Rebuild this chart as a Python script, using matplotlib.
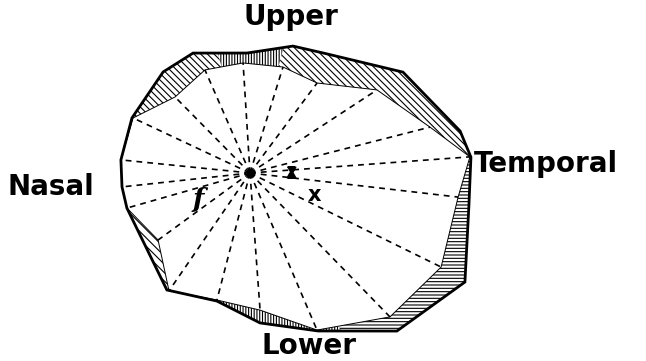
import numpy as np
import matplotlib
matplotlib.use("Agg")
import matplotlib.pyplot as plt
from matplotlib.patches import Polygon

# field of vision, right eye: meridian angle (deg, 0 = temporal) and extent (deg)
outer_angle = [4.1, 11.3, 33.4, 58.7, 71.3, 91.4, 115.4, 130.7, 155.0, 174.2,
               186.2, 195.9, 234.6, 255.5, 273.8, 293.3, 312.9, 333.1, 351.7]
outer_r = [88.6, 85.7, 73.3, 56.2, 53.6, 48.0, 53.1, 53.3, 52.1, 51.9,
           51.5, 51.2, 57.4, 52.9, 60.1, 68.8, 86.3, 96.4, 88.5]

# contracted field, measured along each meridian
inner_angle = [4.2, 14.3, 33.2, 53.3, 72.7, 93.6, 113.6, 134.6, 154.8, 174.2,
               186.2, 195.9, 216.1, 235.5, 255.4, 274.2, 293.1, 314.2, 333.8, 353.4]
inner_r = [88.2, 74.3, 60.7, 44.9, 44.4, 44.1, 45.0, 42.7, 51.7, 51.9,
           51.5, 51.2, 45.5, 57.2, 52.5, 55.0, 68.3, 80.3, 85.2, 83.8]

blind_spot = (1.4, 16.4)

# hatch direction per sector of the lost band
sectors = [(300, 364, "-----"), (4, 75, "\\\\\\\\\\"), (75, 105, "||||||"),
           (105, 200, "\\\\\\\\\\"), (195, 240, "\\\\\\\\"), (240, 300, "||||||")]

plt.rcParams["hatch.linewidth"] = 0.8

fig = plt.figure(figsize=(6.46, 3.61), dpi=100)
ax = fig.add_axes([0, -62 / 361, 500 / 646, 500 / 361], projection="polar")
ax.set_theta_zero_location("E")
ax.set_ylim(0, 100)
ax.grid(False)
ax.set_xticks([])
ax.set_yticks([])
ax.spines["polar"].set_visible(False)

to = np.radians(outer_angle)
ti = np.radians(inner_angle)

# hatched band between the two fields, clipped sector by sector
for a1, a2, h in sectors:
    arc = np.radians(np.linspace(a1, a2, 12))
    pts = [(np.radians(a1), 0)] + [(a, 250) for a in arc] + [(np.radians(a2), 0)]
    sector = Polygon(pts, closed=True, transform=ax.transData)
    band, = ax.fill(to, outer_r, facecolor="none", edgecolor="black",
                    hatch=h, linewidth=0, zorder=1)
    band.set_clip_path(sector)

ax.fill(ti, inner_r, facecolor="white", edgecolor="black", linewidth=0.7, zorder=2)

# meridians
for t, r in zip(ti, inner_r):
    ax.plot([t, t], [0, r], color="black", linewidth=1.2,
            dashes=(3.5, 3.0), zorder=3)

ax.fill(to, outer_r, facecolor="none", edgecolor="black", linewidth=2.0, zorder=4)

# fixation point and blind spot
ax.scatter([0], [0], s=30, color="black", zorder=5)
hourglass = [(-0.8, 1), (0.8, 1), (0.25, 0), (0.8, -1), (-0.8, -1), (-0.25, 0)]
ax.scatter([np.radians(blind_spot[0])], [blind_spot[1]], s=60,
           marker=hourglass, color="black", zorder=5)

ax.text(np.radians(207.4), 23.4, "f", fontsize=19, family="DejaVu Serif",
        style="italic", fontweight="bold", ha="center", va="center", zorder=6)
ax.text(np.radians(341.0), 27.1, "x", fontsize=15, fontweight="bold",
        ha="center", va="center", zorder=6)

label_style = dict(fontsize=20, fontweight="bold", va="baseline")
fig.text(291 / 646, 1 - 25 / 361, "Upper", ha="center", **label_style)
fig.text(309 / 646, 1 - 354 / 361, "Lower", ha="center", **label_style)
fig.text(8 / 646, 1 - 195 / 361, "Nasal", ha="left", **label_style)
fig.text(474 / 646, 1 - 172 / 361, "Temporal", ha="left", **label_style)

fig.savefig("out.png", dpi=100)
